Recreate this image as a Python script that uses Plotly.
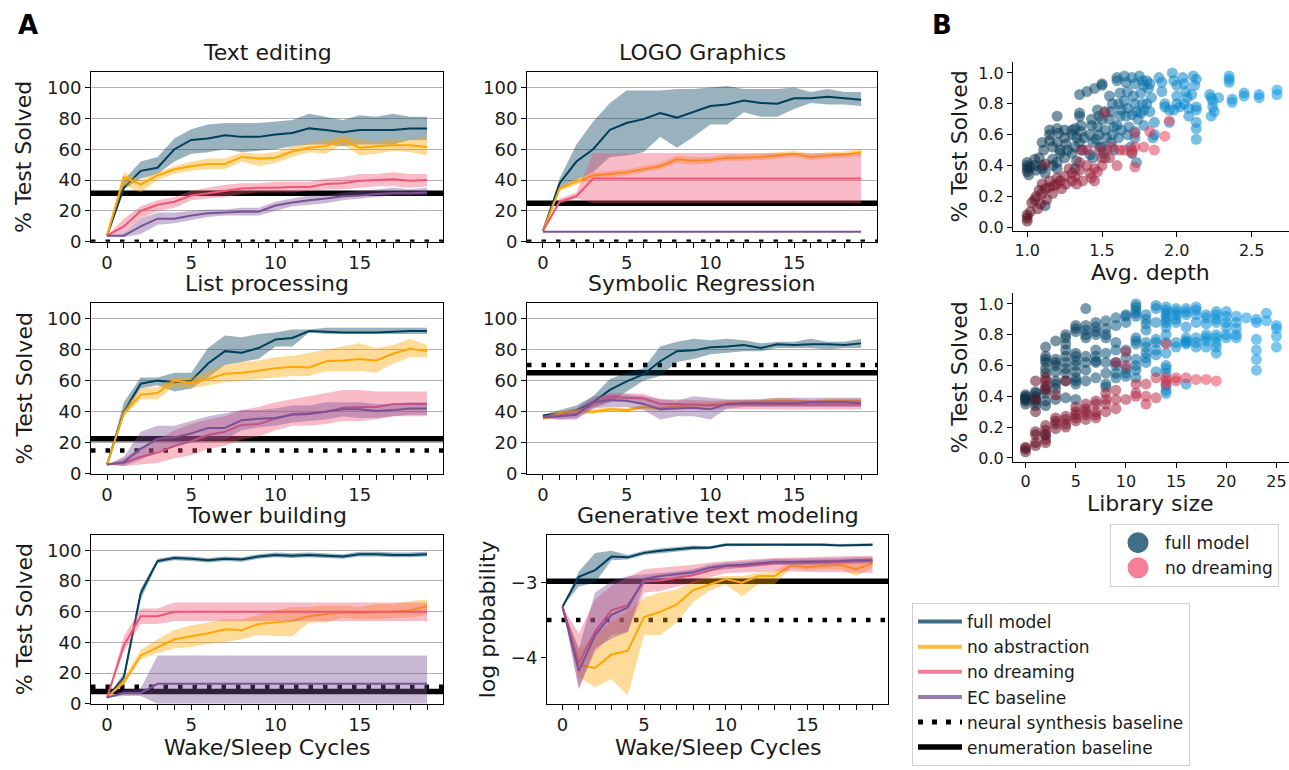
import plotly.graph_objects as go

W, H = 1289, 770
FONT = "DejaVu Sans"

CYCLES = list(range(20))
X_TICK_LABELS = ["0", "", "", "", "", "5", "", "", "", "", "10", "", "", "", "", "15", "", "", "", ""]
PCT_TICKS = [0, 20, 40, 60, 80, 100]
LOGP_TICKS = [-4, -3]
LOGP_TICK_LABELS = ["\u22124", "\u22123"]

# ---------------- Text editing ----------------
TE_FULL = [4, 35, 46, 48, 60, 66, 67, 69, 68, 68, 69.5, 70.5, 73.5, 72.5, 71, 72.5, 72.5, 72.5, 73.5, 73.5]
TE_FULL_LO = [4, 34, 41, 44, 52, 57, 58, 60, 58, 59, 60, 62, 63, 63, 62, 63, 63, 63, 66, 66]
TE_FULL_HI = [4, 40, 52, 55, 67, 73, 76, 77, 77, 77, 78, 79, 83, 81, 79, 82, 81, 83, 81, 81]
TE_NOABS = [4, 42, 37, 43, 47, 49, 50.5, 50.5, 55, 54, 54.5, 58.5, 61, 62, 66, 61, 62, 62.5, 62.5, 61.5]
TE_NOABS_LO = [4, 37, 32, 40, 44, 46, 47, 47, 52, 49, 51, 55, 58, 57, 63, 56, 57, 59, 58, 56]
TE_NOABS_HI = [4, 45, 40, 45, 49, 52, 54, 54, 58, 57, 58, 62, 64, 66, 69, 66, 65, 67, 66, 68]
TE_NODREAM = [4, 10, 20, 24, 26, 30, 31.5, 33, 34.5, 35, 35, 35.5, 35.5, 37.5, 38, 39.5, 40, 40.5, 39.5, 40]
TE_NODREAM_LO = [4, 6, 15, 20, 22, 27, 28, 29, 31, 32, 32, 32, 33, 34, 34, 35, 36, 36, 35, 36]
TE_NODREAM_HI = [4, 15, 23, 27, 29, 33, 35, 37, 38, 38, 39, 39, 39, 41, 42, 44, 44, 45, 44, 44]
TE_EC = [4, 4, 10, 15, 15, 17, 18.5, 19, 19.5, 19.5, 23.5, 25.5, 27, 28, 29.5, 30, 31, 31.5, 31.5, 32]
TE_EC_LO = [4, 3, 5, 11, 12, 14, 16, 17, 17, 17, 20, 23, 24, 25, 27, 28, 29, 30, 30, 30]
TE_EC_HI = [4, 6, 15, 19, 19, 20, 21, 21, 22, 22, 26, 28, 30, 30, 32, 33, 34, 35, 34, 35]
TE_ENUM = 31.5
TE_NEURAL = 0

# ---------------- LOGO Graphics ----------------
LG_FULL = [7, 38, 52, 60, 72.5, 77, 79.5, 83.5, 80.5, 84, 88, 89, 91.5, 90, 89.5, 93, 93, 94, 93, 92]
LG_FULL_LO = [7, 35, 40, 45, 55, 56, 58, 68, 61, 68, 76, 76, 84, 81, 81, 86, 90, 89, 89, 88]
LG_FULL_HI = [7, 41, 63, 78, 90, 98, 98, 98, 99, 99, 100, 101, 99, 99, 99, 100, 97, 99, 97, 97]
LG_NOABS = [7, 34.5, 39, 43, 44, 45, 47, 49, 53.5, 52.5, 53, 54.5, 54.5, 55, 56, 57, 55, 56, 56.5, 58]
LG_NOABS_LO = [7, 33, 37, 41, 42, 43, 45, 47, 51, 50, 51, 52.5, 52.5, 53, 54, 55, 53, 54, 54.5, 55.5]
LG_NOABS_HI = [7, 36, 41, 45, 46, 47, 49, 51, 56, 55, 55, 56.5, 56.5, 57, 58, 59, 57, 58, 58.5, 60.5]
LG_NODREAM = [7, 26, 29.5, 41, 41, 41, 41, 41, 41, 41, 41, 41, 41, 41, 41, 41, 41, 41, 41, 41]
LG_NODREAM_LO = [7, 25, 28, 25, 25, 25, 25, 25, 25, 25, 25, 25, 25, 25, 25, 25, 25, 25, 25, 25]
LG_NODREAM_HI = [7, 28, 32, 57.5, 57.5, 57.5, 57.5, 57.5, 57.5, 57.5, 57.5, 57.5, 57.5, 57.5, 57.5, 57.5, 57.5, 57.5, 57.5, 57.5]
LG_EC = [6.5, 6.5, 6.5, 6.5, 6.5, 6.5, 6.5, 6.5, 6.5, 6.5, 6.5, 6.5, 6.5, 6.5, 6.5, 6.5, 6.5, 6.5, 6.5, 6.5]
LG_ENUM = 25
LG_NEURAL = 0

# ---------------- List processing ----------------
LP_FULL = [6, 40, 58, 60, 59, 60, 71, 79, 78, 81, 86.5, 87.5, 92, 91.5, 91, 91, 91, 91.5, 92, 92]
LP_FULL_LO = [6, 37, 55, 57, 53, 55, 62, 70, 72, 74, 82, 82, 91, 90, 90, 90, 90, 90, 90, 90]
LP_FULL_HI = [6, 46, 62, 62, 65, 65, 81, 89, 88, 90, 91, 93, 93, 94, 94, 94, 94, 94, 94, 94]
LP_NOABS = [6, 39, 51, 52, 60, 58.5, 61, 64.5, 65, 66.5, 68, 69, 68.5, 72.5, 73, 74, 73, 77.5, 80.5, 79]
LP_NOABS_LO = [6, 37, 48, 48, 56, 55, 57, 59, 60, 61, 62, 63, 63, 66, 66, 66, 65, 71, 75, 75]
LP_NOABS_HI = [6, 42, 55, 56, 62, 62, 66, 70, 72, 73, 75, 76, 78, 80, 82, 84, 81, 83, 87, 83]
LP_NODREAM = [6, 7, 11, 13.5, 18, 21, 25, 27, 31.5, 32, 35.5, 38.5, 39, 40, 42.5, 43, 43, 45, 45, 45]
LP_NODREAM_LO = [6, 5, 6, 7, 10, 12, 16, 18, 22, 24, 28, 31, 31, 32, 34, 34, 35, 37, 37, 37]
LP_NODREAM_HI = [6, 10, 17, 22, 28, 32, 35, 37, 41, 43, 46, 48, 50, 52, 54, 54, 53, 53, 53, 53]
LP_EC = [6, 7.5, 16, 22.5, 23.5, 26, 29.5, 29.5, 34.5, 35.5, 36, 38, 38.5, 40, 41.5, 41.5, 40.5, 41, 42, 42]
LP_EC_LO = [6, 5, 9, 14, 17, 20, 22, 22, 28, 30, 31, 33, 34, 35, 37, 36, 36, 37, 38, 38]
LP_EC_HI = [6, 11, 27, 31, 31, 34, 37, 39, 41, 41, 42, 44, 44, 46, 46, 46, 45, 45, 46, 46]
LP_ENUM = 22.5
LP_NEURAL = 15

# ---------------- Symbolic Regression ----------------
SR_FULL = [37.5, 39, 41, 46, 54, 59.5, 64, 72.5, 79, 79.5, 81.5, 82, 83, 81, 83.5, 83, 83.5, 83.5, 83, 84]
SR_FULL_LO = [37, 37, 39, 43, 46, 53, 60, 63, 72, 74, 77, 78, 79, 79, 81, 81, 81, 80, 81, 81]
SR_FULL_HI = [38, 41, 44, 50, 61, 65, 68, 82, 85, 87, 86, 87, 86, 84, 85, 85, 87, 85, 85, 87]
SR_NOABS = [35.5, 39, 40.5, 40, 41.5, 41, 43, 42, 43.5, 44.5, 44.5, 45.5, 46, 46.5, 47, 47, 46, 47, 47, 47]
SR_NOABS_LO = [34.5, 37.5, 39, 38.5, 40, 39.5, 41.5, 40.5, 42, 43, 43, 44, 44.5, 45, 45.5, 45.5, 44.5, 45.5, 45.5, 45.5]
SR_NOABS_HI = [36.5, 40.5, 42, 41.5, 43, 42.5, 44.5, 43.5, 45, 46, 46, 47, 47.5, 48, 49, 48.5, 47.5, 48.5, 48.5, 48.5]
SR_NODREAM = [36.5, 37, 38.5, 45, 49.5, 49, 48.5, 45, 45, 44.5, 44, 44.5, 44.5, 44.5, 44.5, 44.5, 44.5, 44.5, 44.5, 44.5]
SR_NODREAM_LO = [35.5, 35, 36, 42, 46.5, 46, 45.5, 42, 42, 41.5, 41, 41.5, 41.5, 41.5, 41.5, 41.5, 41.5, 41.5, 41.5, 41.5]
SR_NODREAM_HI = [37.5, 39, 41, 48, 52, 52, 51.5, 48, 48, 47.5, 47, 47.5, 47.5, 47.5, 47.5, 47.5, 47.5, 47.5, 47.5, 47.5]
SR_EC = [36.5, 37, 38, 46, 47.5, 47, 45, 41.5, 42, 42.5, 41.5, 45, 45.5, 45.5, 45.5, 45.5, 46, 46, 46, 45.5]
SR_EC_LO = [36, 35, 35, 42, 43, 43, 41, 35, 37, 37, 35, 42, 43, 43, 43, 43, 43, 43, 43, 43]
SR_EC_HI = [37, 39, 42, 50, 51, 51, 50, 48, 47, 50, 49, 48, 48, 48, 49, 49, 49, 49, 49, 49]
SR_ENUM = 65
SR_NEURAL = 70

# ---------------- Tower building ----------------
TB_FULL = [4, 17, 72, 93, 95, 94.5, 93.5, 94.5, 94, 96, 97, 96.5, 97, 96.5, 96, 97.5, 97.5, 97, 97, 97.5]
TB_FULL_LO = [4, 14, 68, 91.5, 93.5, 93, 92, 93, 92.5, 94.5, 95.5, 95, 95.5, 95, 94.5, 96, 96, 95.5, 95.5, 96]
TB_FULL_HI = [4, 20, 75, 94.5, 96.5, 96, 95, 96, 95.5, 97.5, 98.5, 98, 98.5, 98, 97.5, 99, 99, 98.5, 98.5, 99]
TB_NOABS = [4, 14, 31.5, 37, 42, 44, 46, 48.5, 48, 52, 53, 54, 57, 58.5, 59.5, 59, 60, 60, 61, 63.5]
TB_NOABS_LO = [4, 12, 29, 33, 36, 37, 39, 40, 42, 45, 44, 44, 53, 53, 56, 55, 55, 56, 56, 58]
TB_NOABS_HI = [4, 17, 35, 42, 48, 51, 53, 55, 55, 58, 61, 63, 63, 64, 64, 63, 65, 65, 67, 68]
TB_NODREAM = [4, 38, 57, 57, 60, 60, 60, 60, 60, 60, 60, 60, 60, 60, 60, 60, 60, 60, 60, 60]
TB_NODREAM_LO = [4, 34, 52, 52, 54, 54, 54, 54, 54, 54, 54, 54, 54, 54, 54, 54, 54, 54, 54, 54]
TB_NODREAM_HI = [4, 44, 62, 62, 66, 66, 66, 66, 66, 66, 66, 66, 66, 66, 66, 66, 66, 66, 66, 66]
TB_EC = [4, 7, 7, 13, 13, 13, 13, 13, 13, 13, 13, 13, 13, 13, 13, 13, 13, 13, 13, 13]
TB_EC_LO = [4, 5, 5, 0, 0, 0, 0, 0, 0, 0, 0, 0, 0, 0, 0, 0, 0, 0, 0, 0]
TB_EC_HI = [4, 9, 10, 31.5, 31.5, 31.5, 31.5, 31.5, 31.5, 31.5, 31.5, 31.5, 31.5, 31.5, 31.5, 31.5, 31.5, 31.5, 31.5, 31.5]
TB_ENUM = 8
TB_NEURAL = 11

# ---------------- Generative text modeling ----------------
GT_FULL = [-3.32, -2.92, -2.83, -2.65, -2.66, -2.60, -2.57, -2.55, -2.53, -2.53, -2.49, -2.49, -2.49, -2.48, -2.49, -2.48, -2.49, -2.50, -2.49, -2.49]
GT_FULL_LO = [-3.32, -3.05, -3.00, -2.70, -2.69, -2.63, -2.60, -2.58, -2.56, -2.55, -2.51, -2.51, -2.51, -2.50, -2.51, -2.50, -2.51, -2.52, -2.51, -2.51]
GT_FULL_HI = [-3.32, -2.85, -2.60, -2.57, -2.63, -2.57, -2.54, -2.52, -2.50, -2.51, -2.47, -2.47, -2.47, -2.46, -2.47, -2.46, -2.47, -2.48, -2.47, -2.47]
GT_NOABS = [-3.32, -4.10, -4.14, -3.96, -3.91, -3.46, -3.39, -3.29, -3.10, -3.02, -2.95, -3.00, -2.91, -2.91, -2.77, -2.79, -2.77, -2.76, -2.82, -2.74]
GT_NOABS_LO = [-3.32, -4.27, -4.40, -4.29, -4.51, -3.70, -3.70, -3.53, -3.26, -3.11, -3.02, -3.18, -3.02, -3.02, -2.80, -2.84, -2.82, -2.82, -2.91, -2.80]
GT_NOABS_HI = [-3.32, -3.88, -3.70, -3.53, -3.39, -3.20, -3.13, -3.09, -2.98, -2.93, -2.91, -2.91, -2.87, -2.85, -2.71, -2.71, -2.71, -2.69, -2.69, -2.67]
GT_NODREAM = [-3.32, -4.07, -3.65, -3.37, -3.30, -2.98, -2.97, -2.93, -2.90, -2.84, -2.78, -2.78, -2.76, -2.74, -2.74, -2.73, -2.73, -2.72, -2.72, -2.71]
GT_NODREAM_LO = [-3.32, -4.40, -3.92, -3.70, -3.66, -3.13, -3.11, -3.05, -3.00, -2.93, -2.87, -2.87, -2.86, -2.85, -2.85, -2.85, -2.86, -2.86, -2.86, -2.87]
GT_NODREAM_HI = [-3.32, -3.68, -3.22, -3.04, -2.93, -2.82, -2.80, -2.78, -2.76, -2.73, -2.71, -2.70, -2.68, -2.67, -2.67, -2.66, -2.65, -2.65, -2.64, -2.64]
GT_EC = [-3.32, -4.18, -3.70, -3.43, -3.33, -2.95, -2.91, -2.89, -2.86, -2.80, -2.77, -2.76, -2.74, -2.72, -2.72, -2.72, -2.72, -2.71, -2.70, -2.70]
GT_EC_LO = [-3.32, -4.43, -3.88, -3.75, -3.66, -3.02, -2.96, -2.93, -2.90, -2.84, -2.81, -2.80, -2.78, -2.76, -2.76, -2.76, -2.76, -2.75, -2.74, -2.74]
GT_EC_HI = [-3.32, -3.88, -3.13, -2.98, -2.91, -2.89, -2.86, -2.85, -2.82, -2.76, -2.73, -2.72, -2.70, -2.68, -2.68, -2.68, -2.68, -2.67, -2.66, -2.66]
GT_ENUM = -2.98
GT_NEURAL = -3.50

# ---------------- Panel B: Avg. depth vs % test solved ----------------
DEPTH_FULL_PTS = [
    (1.0, 0.36), (1.0, 0.38), (1.0, 0.40), (1.0, 0.42), (1.01, 0.34), (1.02, 0.39),
    (1.05, 0.44), (1.05, 0.40), (1.06, 0.37), (1.08, 0.45), (1.10, 0.40), (1.10, 0.38),
    (1.12, 0.35), (1.12, 0.14), (1.10, 0.55), (1.11, 0.50), (1.15, 0.63), (1.15, 0.60),
    (1.15, 0.56), (1.17, 0.52), (1.17, 0.44), (1.17, 0.40), (1.20, 0.72), (1.20, 0.64),
    (1.21, 0.61), (1.20, 0.55), (1.22, 0.50), (1.22, 0.48), (1.20, 0.42), (1.20, 0.38),
    (1.25, 0.63), (1.25, 0.58), (1.26, 0.54), (1.27, 0.50), (1.25, 0.45), (1.30, 0.63),
    (1.30, 0.60), (1.32, 0.64), (1.33, 0.58), (1.32, 0.52), (1.30, 0.48), (1.33, 0.43),
    (1.32, 0.38), (1.35, 0.86), (1.35, 0.74), (1.35, 0.72), (1.36, 0.66), (1.36, 0.62),
    (1.38, 0.58), (1.35, 0.55), (1.37, 0.50), (1.40, 0.88), (1.43, 0.70), (1.43, 0.66),
    (1.42, 0.60), (1.44, 0.55), (1.42, 0.47), (1.44, 0.45), (1.45, 0.90), (1.47, 0.76),
    (1.48, 0.72), (1.47, 0.65), (1.48, 0.60), (1.46, 0.57), (1.49, 0.52), (1.50, 0.93),
    (1.50, 0.92), (1.52, 0.75), (1.50, 0.70), (1.52, 0.63), (1.53, 0.58), (1.50, 0.52),
    (1.51, 0.48), (1.52, 0.45), (1.55, 0.85), (1.57, 0.80), (1.56, 0.75), (1.55, 0.70),
    (1.58, 0.65), (1.57, 0.60), (1.56, 0.55), (1.58, 0.50), (1.60, 0.97), (1.60, 0.95),
    (1.62, 0.87), (1.61, 0.80), (1.63, 0.76), (1.62, 0.72), (1.60, 0.66), (1.63, 0.63),
    (1.61, 0.58), (1.65, 0.98), (1.66, 0.94), (1.67, 0.88), (1.65, 0.82), (1.67, 0.77),
    (1.66, 0.72), (1.68, 0.65), (1.67, 0.60), (1.69, 0.52), (1.70, 0.48), (1.70, 0.97),
    (1.72, 0.93), (1.71, 0.85), (1.72, 0.80), (1.73, 0.75), (1.70, 0.73), (1.74, 0.70),
    (1.72, 0.62), (1.72, 0.58), (1.73, 0.42), (1.75, 0.98), (1.77, 0.95), (1.78, 0.92),
    (1.76, 0.87), (1.77, 0.80), (1.78, 0.76), (1.76, 0.74), (1.78, 0.66), (1.80, 0.95),
    (1.82, 0.93), (1.81, 0.90), (1.83, 0.84), (1.80, 0.80), (1.82, 0.75), (1.85, 0.68),
    (1.85, 0.60), (1.84, 0.58), (1.88, 0.97), (1.90, 0.94), (1.90, 0.88), (1.92, 0.80),
    (1.92, 0.78), (1.95, 0.76), (1.95, 0.68), (1.97, 1.00), (1.98, 0.95), (2.00, 0.92),
    (2.00, 0.85), (2.00, 0.80), (1.98, 0.76), (2.02, 0.78), (2.04, 0.97), (2.05, 0.93),
    (2.06, 0.88), (2.07, 0.84), (2.05, 0.80), (2.08, 0.77), (2.08, 0.72), (2.11, 0.98),
    (2.13, 0.96), (2.12, 0.92), (2.10, 0.86), (2.13, 0.78), (2.13, 0.76), (2.13, 0.68),
    (2.13, 0.64), (2.13, 0.57), (2.22, 0.86), (2.23, 0.84), (2.24, 0.82), (2.24, 0.78),
    (2.23, 0.72), (2.25, 0.75), (2.28, 0.84), (2.35, 0.98), (2.35, 0.96), (2.35, 0.94),
    (2.37, 0.83), (2.37, 0.81), (2.45, 0.87), (2.45, 0.85), (2.55, 0.86), (2.55, 0.84),
    (2.67, 0.89), (2.67, 0.86),
]
DEPTH_NODREAM_PTS = [
    (1.0, 0.04), (1.0, 0.06), (1.0, 0.08), (1.02, 0.10), (1.03, 0.16), (1.05, 0.18),
    (1.06, 0.20), (1.07, 0.12), (1.08, 0.24), (1.09, 0.15), (1.10, 0.22), (1.10, 0.28),
    (1.12, 0.25), (1.12, 0.41), (1.13, 0.18), (1.15, 0.30), (1.15, 0.26), (1.17, 0.22),
    (1.18, 0.27), (1.20, 0.32), (1.20, 0.28), (1.22, 0.30), (1.23, 0.25), (1.25, 0.33),
    (1.26, 0.28), (1.28, 0.38), (1.30, 0.30), (1.30, 0.35), (1.32, 0.33), (1.33, 0.28),
    (1.35, 0.42), (1.35, 0.37), (1.36, 0.50), (1.37, 0.30), (1.40, 0.50), (1.40, 0.40),
    (1.42, 0.35), (1.43, 0.32), (1.45, 0.38), (1.45, 0.30), (1.47, 0.36), (1.48, 0.50),
    (1.50, 0.45), (1.50, 0.40), (1.52, 0.74), (1.53, 0.50), (1.55, 0.45), (1.57, 0.52),
    (1.60, 0.40), (1.62, 0.50), (1.65, 0.50), (1.70, 0.50), (1.72, 0.61), (1.72, 0.52),
    (1.72, 0.39), (1.78, 0.52), (1.82, 0.62), (1.85, 0.50), (1.92, 0.59), (1.95, 0.69),
    (1.70, 0.48),
]

# ---------------- Panel B: Library size vs % test solved ----------------
LIB_FULL_PTS = [
    (0, 0.35), (0, 0.37), (0, 0.38), (0, 0.39), (0, 0.40), (0, 0.41),
    (1, 0.34), (1, 0.36), (1, 0.38), (1, 0.40), (1, 0.42), (1, 0.43),
    (2, 0.72), (2, 0.66), (2, 0.64), (2, 0.62), (2, 0.58), (2, 0.55), (2, 0.45), (2, 0.42), (2, 0.37), (2, 0.34), (2, 0.15),
    (3, 0.76), (3, 0.64), (3, 0.62), (3, 0.60), (3, 0.56), (3, 0.50), (3, 0.48), (3, 0.45), (3, 0.38),
    (4, 0.80), (4, 0.78), (4, 0.74), (4, 0.70), (4, 0.66), (4, 0.62), (4, 0.58), (4, 0.55), (4, 0.50), (4, 0.39),
    (5, 0.86), (5, 0.84), (5, 0.82), (5, 0.68), (5, 0.66), (5, 0.63), (5, 0.60), (5, 0.56), (5, 0.52), (5, 0.50), (5, 0.48), (5, 0.38),
    (6, 0.97), (6, 0.86), (6, 0.83), (6, 0.80), (6, 0.78), (6, 0.66), (6, 0.62), (6, 0.57), (6, 0.50),
    (7, 0.88), (7, 0.85), (7, 0.82), (7, 0.80), (7, 0.70), (7, 0.66), (7, 0.63), (7, 0.62), (7, 0.52),
    (8, 0.89), (8, 0.84), (8, 0.80), (8, 0.78), (8, 0.68), (8, 0.62), (8, 0.55), (8, 0.48), (8, 0.46),
    (9, 0.91), (9, 0.86), (9, 0.75), (9, 0.70), (9, 0.62), (9, 0.60), (9, 0.55), (9, 0.52),
    (10, 0.93), (10, 0.92), (10, 0.88), (10, 0.70), (10, 0.65), (10, 0.58), (10, 0.55), (10, 0.53),
    (11, 1.00), (11, 0.98), (11, 0.96), (11, 0.94), (11, 0.92), (11, 0.78), (11, 0.76), (11, 0.74), (11, 0.64), (11, 0.60), (11, 0.57), (11, 0.52),
    (12, 0.93), (12, 0.90), (12, 0.87), (12, 0.83), (12, 0.75), (12, 0.72), (12, 0.68), (12, 0.65), (12, 0.62),
    (13, 0.99), (13, 0.97), (13, 0.88), (13, 0.77), (13, 0.75), (13, 0.70), (13, 0.67), (13, 0.56),
    (14, 0.98), (14, 0.96), (14, 0.94), (14, 0.92), (14, 0.90), (14, 0.88), (14, 0.85), (14, 0.80), (14, 0.75), (14, 0.68), (14, 0.60), (14, 0.58), (14, 0.55), (14, 0.47), (14, 0.44), (14, 0.42),
    (15, 0.97), (15, 0.95), (15, 0.93), (15, 0.90), (15, 0.88), (15, 0.75), (15, 0.72),
    (16, 0.97), (16, 0.95), (16, 0.93), (16, 0.85), (16, 0.78), (16, 0.76), (16, 0.75), (16, 0.74), (16, 0.48),
    (17, 0.98), (17, 0.96), (17, 0.93), (17, 0.88), (17, 0.78), (17, 0.75), (17, 0.72),
    (18, 0.93), (18, 0.91), (18, 0.87), (18, 0.80), (18, 0.78), (18, 0.76), (18, 0.72),
    (19, 0.95), (19, 0.93), (19, 0.90), (19, 0.88), (19, 0.80), (19, 0.78), (19, 0.75), (19, 0.72), (19, 0.68),
    (20, 0.95), (20, 0.92), (20, 0.88), (20, 0.85), (20, 0.80), (20, 0.78),
    (21, 0.92), (21, 0.88), (21, 0.84), (21, 0.80), (21, 0.78),
    (22, 0.91),
    (23, 0.90), (23, 0.88), (23, 0.77), (23, 0.70), (23, 0.64), (23, 0.57),
    (24, 0.94), (24, 0.89),
    (25, 0.86), (25, 0.84), (25, 0.79), (25, 0.72),
]
LIB_NODREAM_PTS = [
    (0, 0.04), (0, 0.06), (0, 0.07),
    (1, 0.50), (1, 0.38), (1, 0.30), (1, 0.17), (1, 0.15), (1, 0.10), (1, 0.08),
    (2, 0.52), (2, 0.50), (2, 0.47), (2, 0.44), (2, 0.21), (2, 0.18), (2, 0.15), (2, 0.12), (2, 0.10),
    (3, 0.41), (3, 0.26), (3, 0.24), (3, 0.22), (3, 0.19),
    (4, 0.50), (4, 0.27), (4, 0.25), (4, 0.22), (4, 0.20),
    (5, 0.33), (5, 0.30), (5, 0.28), (5, 0.26), (5, 0.24),
    (6, 0.35), (6, 0.32), (6, 0.30), (6, 0.28), (6, 0.25),
    (7, 0.37), (7, 0.35), (7, 0.30), (7, 0.28), (7, 0.26),
    (8, 0.42), (8, 0.38), (8, 0.35), (8, 0.30),
    (9, 0.62), (9, 0.44), (9, 0.38), (9, 0.32),
    (10, 0.69), (10, 0.60), (10, 0.38),
    (11, 0.48), (11, 0.42), (11, 0.40),
    (12, 0.48), (12, 0.40), (12, 0.35),
    (13, 0.52), (13, 0.39),
    (14, 0.74), (14, 0.52), (14, 0.50), (14, 0.48),
    (15, 0.52), (15, 0.50),
    (16, 0.52), (17, 0.51), (18, 0.51), (19, 0.50),
]
SCATTER_TICKS = [0.0, 0.2, 0.4, 0.6, 0.8, 1.0]
DEPTH_TICKS = [1.0, 1.5, 2.0, 2.5]
LIB_TICKS = [0, 5, 10, 15, 20, 25]

# ---------------- styling ----------------
COLORS = {"full": "#003f5c", "noabs": "#ffa600", "nodream": "#ef5675", "ec": "#7a5195"}
LEGEND_COLORS = {"full": "#3f6e85", "noabs": "#ffbc3f", "nodream": "#f38097", "ec": "#9b7cb0"}
NAMES = {"full": "full model", "noabs": "no abstraction", "nodream": "no dreaming", "ec": "EC baseline"}


def rgba(h, a):
    h = h.lstrip("#")
    r, g, b = int(h[0:2], 16), int(h[2:4], 16), int(h[4:6], 16)
    return f"rgba({r},{g},{b},{a})"


def px_x(p):
    return p / W


def px_y(p):
    return 1 - p / H


PANELS = [
    dict(title="Text editing", box=(91, 73, 443, 245), ylabel="% Test Solved", xlabel=None,
         series=[("full", TE_FULL, TE_FULL_LO, TE_FULL_HI), ("noabs", TE_NOABS, TE_NOABS_LO, TE_NOABS_HI),
                 ("nodream", TE_NODREAM, TE_NODREAM_LO, TE_NODREAM_HI), ("ec", TE_EC, TE_EC_LO, TE_EC_HI)],
         enum=TE_ENUM, neural=TE_NEURAL, kind="pct"),
    dict(title="LOGO Graphics", box=(527, 73, 877, 245), ylabel=None, xlabel=None,
         series=[("full", LG_FULL, LG_FULL_LO, LG_FULL_HI), ("noabs", LG_NOABS, LG_NOABS_LO, LG_NOABS_HI),
                 ("nodream", LG_NODREAM, LG_NODREAM_LO, LG_NODREAM_HI), ("ec", LG_EC, None, None)],
         enum=LG_ENUM, neural=LG_NEURAL, kind="pct"),
    dict(title="List processing", box=(91, 307, 443, 480), ylabel="% Test Solved", xlabel=None,
         series=[("full", LP_FULL, LP_FULL_LO, LP_FULL_HI), ("noabs", LP_NOABS, LP_NOABS_LO, LP_NOABS_HI),
                 ("nodream", LP_NODREAM, LP_NODREAM_LO, LP_NODREAM_HI), ("ec", LP_EC, LP_EC_LO, LP_EC_HI)],
         enum=LP_ENUM, neural=LP_NEURAL, kind="pct"),
    dict(title="Symbolic Regression", box=(527, 307, 877, 480), ylabel=None, xlabel=None,
         series=[("full", SR_FULL, SR_FULL_LO, SR_FULL_HI), ("noabs", SR_NOABS, SR_NOABS_LO, SR_NOABS_HI),
                 ("nodream", SR_NODREAM, SR_NODREAM_LO, SR_NODREAM_HI), ("ec", SR_EC, SR_EC_LO, SR_EC_HI)],
         enum=SR_ENUM, neural=SR_NEURAL, kind="pct"),
    dict(title="Tower building", box=(91, 542, 443, 713), ylabel="% Test Solved", xlabel="Wake/Sleep Cycles",
         series=[("full", TB_FULL, TB_FULL_LO, TB_FULL_HI), ("noabs", TB_NOABS, TB_NOABS_LO, TB_NOABS_HI),
                 ("nodream", TB_NODREAM, TB_NODREAM_LO, TB_NODREAM_HI), ("ec", TB_EC, TB_EC_LO, TB_EC_HI)],
         enum=TB_ENUM, neural=TB_NEURAL, kind="pct"),
    dict(title="Generative text modeling", box=(547, 542, 888, 713), ylabel="log probability", xlabel="Wake/Sleep Cycles",
         series=[("full", GT_FULL, GT_FULL_LO, GT_FULL_HI), ("noabs", GT_NOABS, GT_NOABS_LO, GT_NOABS_HI),
                 ("nodream", GT_NODREAM, GT_NODREAM_LO, GT_NODREAM_HI), ("ec", GT_EC, GT_EC_LO, GT_EC_HI)],
         enum=GT_ENUM, neural=GT_NEURAL, kind="logp"),
]

TICKFONT = dict(family=FONT, size=18, color="#1a1a1a")
fig = go.Figure()
layout = {}
annotations = []
shapes = []


def axname(i):
    return ("x" if i == 1 else f"x{i}"), ("y" if i == 1 else f"y{i}")


for i, p in enumerate(PANELS, 1):
    xa, ya = axname(i)
    l, t, r, b = p["box"]
    for key, mean, lo, hi in p["series"]:
        if lo is not None:
            fig.add_trace(go.Scatter(
                x=CYCLES + CYCLES[::-1], y=hi + lo[::-1], fill="toself",
                fillcolor=rgba(COLORS[key], 0.4), line=dict(width=0), mode="lines",
                hoverinfo="skip", showlegend=False, xaxis=xa, yaxis=ya))
        fig.add_trace(go.Scatter(
            x=CYCLES, y=mean, mode="lines", line=dict(color=COLORS[key], width=2),
            showlegend=False, xaxis=xa, yaxis=ya))
    xref_dom = f"{xa} domain"
    shapes.append(dict(type="line", xref=xref_dom, yref=ya, x0=0, x1=1, y0=p["enum"], y1=p["enum"],
                       line=dict(color="black", width=5.5), layer="below"))
    shapes.append(dict(type="line", xref=xref_dom, yref=ya, x0=0, x1=1, y0=p["neural"], y1=p["neural"],
                       line=dict(color="black", width=4.5, dash="4.5px,10px"), layer="below"))

    xk = "xaxis" if i == 1 else f"xaxis{i}"
    yk = "yaxis" if i == 1 else f"yaxis{i}"
    layout[xk] = dict(domain=[px_x(l), px_x(r)], anchor=ya, range=[-0.95, 19.95],
                      tickmode="array", tickvals=CYCLES, ticktext=X_TICK_LABELS,
                      ticks="outside", ticklen=5, tickcolor="black", tickwidth=1,
                      showline=True, mirror=True, linecolor="black", linewidth=1,
                      showgrid=False, zeroline=False, tickfont=TICKFONT)
    if p["kind"] == "pct":
        layout[yk] = dict(domain=[px_y(b), px_y(t)], anchor=xa, range=[0, 110],
                          tickmode="array", tickvals=PCT_TICKS, ticktext=[str(v) for v in PCT_TICKS],
                          ticks="outside", ticklen=5, tickcolor="black", tickwidth=1,
                          showline=True, mirror=True, linecolor="black", linewidth=1,
                          showgrid=True, gridcolor="#b0b0b0", gridwidth=1, zeroline=False,
                          tickfont=TICKFONT)
    else:
        layout[yk] = dict(domain=[px_y(b), px_y(t)], anchor=xa, range=[-4.62, -2.36],
                          tickmode="array", tickvals=LOGP_TICKS, ticktext=LOGP_TICK_LABELS,
                          ticks="outside", ticklen=5, tickcolor="black", tickwidth=1,
                          showline=True, mirror=True, linecolor="black", linewidth=1,
                          showgrid=False, zeroline=False, tickfont=TICKFONT)
    annotations.append(dict(text=p["title"], x=px_x((l + r) / 2), y=px_y(t), xref="paper", yref="paper",
                            xanchor="center", yanchor="bottom", yshift=5, showarrow=False,
                            font=dict(family=FONT, size=22, color="#1a1a1a")))
    if p["ylabel"]:
        lx = 24 if i in (1, 3, 5) else 487
        annotations.append(dict(text=p["ylabel"], x=px_x(lx), y=px_y((t + b) / 2), xref="paper", yref="paper",
                                xanchor="center", yanchor="middle", textangle=-90, showarrow=False,
                                font=dict(family=FONT, size=22, color="#1a1a1a")))
    if p["xlabel"]:
        annotations.append(dict(text=p["xlabel"], x=px_x((l + r) / 2), y=px_y(757), xref="paper", yref="paper",
                                xanchor="center", yanchor="middle", showarrow=False,
                                font=dict(family=FONT, size=22, color="#1a1a1a")))

# ---------------- scatter panels ----------------
FULL_SCALE = [[0, "#0b3148"], [0.3, "#0b4d70"], [0.55, "#0a84c8"], [1, "#0c9be6"]]
NODREAM_SCALE = [[0, "#5a0c1f"], [0.45, "#a32440"], [1, "#f2455f"]]
SCAT = [
    (7, DEPTH_FULL_PTS, DEPTH_NODREAM_PTS, (1013, 63, 1289, 234), [0.905, 2.75], [-0.024, 1.07],
     DEPTH_TICKS, [f"{v:.1f}" for v in DEPTH_TICKS], "Avg. depth", 276),
    (8, LIB_FULL_PTS, LIB_NODREAM_PTS, (1013, 297, 1289, 468), [-1.25, 26.25], [-0.026, 1.07],
     LIB_TICKS, [str(v) for v in LIB_TICKS], "Library size", 510),
]
SFONT = dict(family=FONT, size=16, color="#1a1a1a")
for i, full_pts, nd_pts, box, xr, yr, xt, xtt, xlabel, xly in SCAT:
    xa, ya = axname(i)
    l, t, r, b = box
    for pts, scale in ((full_pts, FULL_SCALE), (nd_pts, NODREAM_SCALE)):
        xs = [q[0] for q in pts]
        ys = [q[1] for q in pts]
        fig.add_trace(go.Scatter(
            x=xs, y=ys, mode="markers", showlegend=False, xaxis=xa, yaxis=ya,
            marker=dict(size=11, color=xs, colorscale=scale, cmin=min(xs), cmax=max(xs),
                        opacity=0.55, line=dict(width=0), showscale=False)))
    layout[f"xaxis{i}"] = dict(domain=[px_x(l), px_x(r)], anchor=ya, range=xr, tickmode="array",
                               tickvals=xt, ticktext=xtt, ticks="outside", ticklen=5, tickcolor="black",
                               showline=True, mirror=False, linecolor="black", linewidth=1,
                               showgrid=False, zeroline=False, tickfont=SFONT)
    layout[f"yaxis{i}"] = dict(domain=[px_y(b), px_y(t)], anchor=xa, range=yr, tickmode="array",
                               tickvals=SCATTER_TICKS, ticktext=[f"{v:.1f}" for v in SCATTER_TICKS],
                               ticks="outside", ticklen=5, tickcolor="black",
                               showline=True, mirror=False, linecolor="black", linewidth=1,
                               showgrid=False, zeroline=False, tickfont=SFONT)
    annotations.append(dict(text="% Test Solved", x=px_x(960), y=px_y((t + b) / 2), xref="paper", yref="paper",
                            xanchor="center", yanchor="middle", textangle=-90, showarrow=False,
                            font=dict(family=FONT, size=22, color="#1a1a1a")))
    annotations.append(dict(text=xlabel, x=px_x(1150), y=px_y(xly), xref="paper", yref="paper",
                            xanchor="center", yanchor="middle", showarrow=False,
                            font=dict(family=FONT, size=22, color="#1a1a1a")))

# ---------------- legends ----------------
for key in ("full", "nodream"):
    fig.add_trace(go.Scatter(x=[None], y=[None], mode="markers", name=NAMES[key], legend="legend",
                             xaxis="x7", yaxis="y7",
                             marker=dict(size=16, color=LEGEND_COLORS[key],
                                         line=dict(width=5, color=LEGEND_COLORS[key]))))
for key in ("full", "noabs", "nodream", "ec"):
    fig.add_trace(go.Scatter(x=[None], y=[None], mode="lines", name=NAMES[key], legend="legend2",
                             xaxis="x7", yaxis="y7", line=dict(color=LEGEND_COLORS[key], width=4)))
fig.add_trace(go.Scatter(x=[None], y=[None], mode="lines", name="neural synthesis baseline", legend="legend2",
                         xaxis="x7", yaxis="y7", line=dict(color="black", width=5, dash="5px,9px")))
fig.add_trace(go.Scatter(x=[None], y=[None], mode="lines", name="enumeration baseline", legend="legend2",
                         xaxis="x7", yaxis="y7", line=dict(color="black", width=5.5)))

annotations.append(dict(text="<b>A</b>", x=px_x(28), y=px_y(25), xref="paper", yref="paper",
                        xanchor="center", yanchor="middle", showarrow=False,
                        font=dict(family=FONT, size=26, color="black")))
annotations.append(dict(text="<b>B</b>", x=px_x(942), y=px_y(25), xref="paper", yref="paper",
                        xanchor="center", yanchor="middle", showarrow=False,
                        font=dict(family=FONT, size=26, color="black")))

LEGEND_STYLE = dict(xanchor="left", yanchor="top", bgcolor="white", bordercolor="#d0d0d0", borderwidth=1,
                    font=dict(family=FONT, size=17, color="#1a1a1a"), tracegroupgap=0, itemwidth=44)
fig.update_layout(
    width=W, height=H, margin=dict(l=0, r=0, t=0, b=0),
    plot_bgcolor="white", paper_bgcolor="white",
    font=dict(family=FONT, color="#1a1a1a"),
    legend=dict(x=px_x(1110), y=px_y(531), **LEGEND_STYLE),
    legend2=dict(x=px_x(912), y=px_y(611), **LEGEND_STYLE),
    annotations=annotations, shapes=shapes, showlegend=True,
    **layout,
)

fig.write_html(
    "out.html",
    config={"displayModeBar": False},
    post_script=("document.documentElement.style.margin='0px';"
                 "document.body.style.margin='0px';"
                 "document.documentElement.style.overflow='hidden';"
                 "document.body.style.overflow='hidden';"),
)
